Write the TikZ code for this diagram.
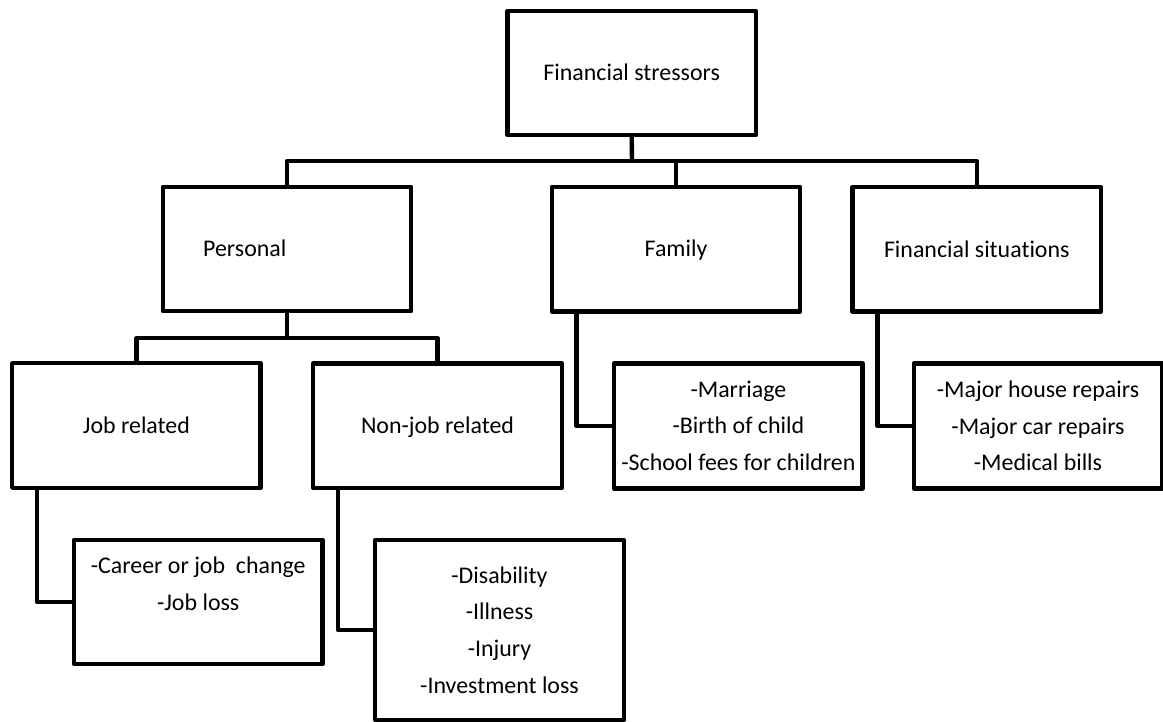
\documentclass[tikz,border=0pt]{standalone}
\usepackage{fontspec}
\setmainfont{Carlito}[Ligatures={NoCommon}]
\begin{document}
\begin{tikzpicture}[x=1pt,y=-1pt,
  box/.style={draw=black, line width=4.4pt, line join=round, minimum width=248.5pt, minimum height=124.5pt, inner sep=0pt, font=\fontsize{23.9}{36.7}\selectfont, align=center},
  one/.style={text height=15.3pt, text depth=0pt},
  lbl/.style={inner sep=0pt, font=\fontsize{23.9}{36.7}\selectfont, text height=15.3pt, text depth=0pt},
  conn/.style={draw=black, line width=4.4pt, line join=round}]
\fill[white] (0,0) rectangle (1163,722);
\useasboundingbox (0,0) rectangle (1163,722);

% level 0
\node[box,one,minimum height=124pt] (top) at (631.7,73) {Financial stressors};
% level 1
\node[box] (personal) at (287,249) {};
\node[lbl,anchor=west] (personaltext) at (203,249) {Personal};
\node[box,one] (family) at (676,249.2) {Family};
\node[box,one] (fs) at (976.8,249.4) {Financial situat\kern0pt ions};
% level 2
\node[box,one] (job) at (136.4,425.5) {Job related};
\node[box,one] (nonjob) at (437.5,425.7) {Non-job related};
\node[box,minimum height=125pt] (famchild) at (738.4,425.8) {-Marriage\\-Birth of child\\-School fees for children};
\node[box,minimum height=125pt] (fschild) at (1038,425.8) {-Major house repairs\\-Major car repairs\\-Medical bills};
% level 3
\node[box,minimum height=124pt] (jobchild) at (198.2,602) {-Career or job~ change\\-Job loss\\\mbox{}};
\node[box,minimum height=180pt] (nonjobchild) at (499.5,630) {-Disability\\-Illness\\-Injury\\-Investment loss};

% connectors
\coordinate (b1) at (632,161);
\draw[conn] (top.south) -- (b1);
\draw[conn] (personal.north) |- (b1) -| (fs.north);
\draw[conn] (family.north) -- (family.north |- b1);
\coordinate (b2) at (287,338.3);
\draw[conn] (personal.south) -- (b2);
\draw[conn] (job.north) |- (b2) -| (nonjob.north);
\draw[conn] ([xshift=27pt]job.south west) |- (jobchild.west);
\draw[conn] ([xshift=27pt]nonjob.south west) |- (nonjobchild.west);
\draw[conn] ([xshift=27pt]family.south west) |- (famchild.west);
\draw[conn] ([xshift=27pt]fs.south west) |- (fschild.west);
\end{tikzpicture}
\end{document}
